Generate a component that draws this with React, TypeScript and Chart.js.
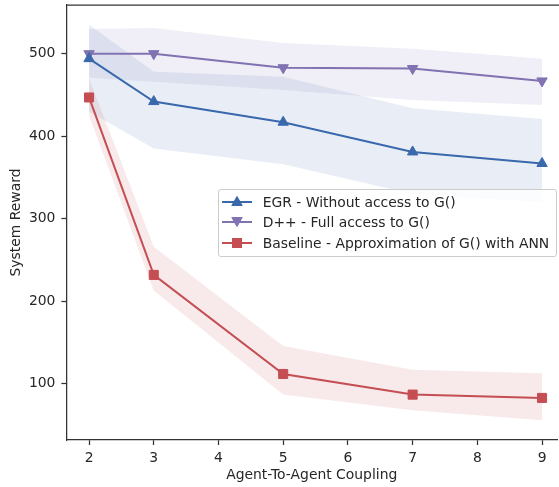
import React, { useEffect, useRef } from "react";
import { Chart, registerables } from "chart.js";

Chart.register(...registerables);

// ---- data ----
const couplings = [2, 3, 5, 7, 9];

const egrMean = [494, 442, 417, 381, 367];
const egrUpper = [535, 478, 472, 434, 421];
const egrLower = [430, 385, 366, 330, 320];

const dppMean = [500, 500, 483, 482, 467];
const dppUpper = [530, 531, 513, 506, 494];
const dppLower = [471, 466, 456, 444, 438];

const baseMean = [447, 232, 112, 87, 83];
const baseUpper = [470, 266, 146, 117, 113];
const baseLower = [425, 213, 87, 68, 56];

const xTicks = [2, 3, 4, 5, 6, 7, 8, 9];
const yTicks = [100, 200, 300, 400, 500];

const labels = [
  "EGR - Without access to G()",
  "D++ - Full access to G()",
  "Baseline - Approximation of G() with ANN",
];

const BLUE = "#3a68ad";
const PURPLE = "#8172b2";
const RED = "#c44e52";
const BLUE_BAND = "rgba(58,104,173,0.11)";
const PURPLE_BAND = "rgba(129,114,178,0.12)";
const RED_BAND = "rgba(196,78,82,0.12)";
const AXIS = "#333333";
const TEXT = "#262626";
const FONT = "'DejaVu Sans', sans-serif";

const pts = (ys: number[]) => couplings.map((x, i) => ({ x, y: ys[i] }));

const topSpine = {
  id: "topSpine",
  afterDraw(chart: any) {
    const { ctx, chartArea } = chart;
    ctx.save();
    ctx.strokeStyle = AXIS;
    ctx.lineWidth = 1.25;
    ctx.beginPath();
    ctx.moveTo(chartArea.left, chartArea.top);
    ctx.lineTo(chart.width, chartArea.top);
    ctx.stroke();
    ctx.restore();
  },
};

function Marker({ kind, color }: { kind: string; color: string }) {
  let shape: any = null;
  if (kind === "up") shape = <polygon points="15,0.5 20.2,9.5 9.8,9.5" fill={color} stroke={color} />;
  else if (kind === "down") shape = <polygon points="15,10.5 20.2,1.5 9.8,1.5" fill={color} stroke={color} />;
  else shape = <rect x="10.5" y="1.5" width="9" height="9" fill={color} stroke={color} />;
  return (
    <svg width="30" height="12" style={{ position: "absolute", left: 3.7, top: 2 }}>
      <line x1="0" y1="6" x2="30" y2="6" stroke={color} strokeWidth="2" />
      {shape}
    </svg>
  );
}

export default function App() {
  const ref = useRef<HTMLCanvasElement | null>(null);

  useEffect(() => {
    if (!ref.current) return;
    const band = (data: number[], color: string, fill: any) => ({
      label: "_band",
      data: pts(data),
      borderWidth: 0,
      pointRadius: 0,
      backgroundColor: color,
      fill,
      order: 2,
    });
    const line = (label: string, data: number[], color: string, style: string, radius: number, rotation = 0) => ({
      label,
      data: pts(data),
      borderColor: color,
      backgroundColor: color,
      borderWidth: 2,
      pointStyle: style,
      pointRadius: radius,
      pointRotation: rotation,
      pointBorderWidth: 1,
      pointBorderColor: color,
      pointBackgroundColor: color,
      fill: false,
      order: 0,
    });

    const chart = new Chart(ref.current, {
      type: "line",
      data: {
        datasets: [
          band(egrLower, BLUE_BAND, false), // 0
          band(egrUpper, BLUE_BAND, 0), // 1
          band(dppLower, PURPLE_BAND, false), // 2
          band(dppUpper, PURPLE_BAND, 2), // 3
          band(baseLower, RED_BAND, false), // 4
          band(baseUpper, RED_BAND, 4), // 5
          line(labels[0], egrMean, BLUE, "triangle", 6),
          line(labels[1], dppMean, PURPLE, "triangle", 6, 180),
          line(labels[2], baseMean, RED, "rect", 6.4),
        ] as any,
      },
      options: {
        animation: false,
        responsive: false,
        layout: { autoPadding: false, padding: { top: 5, right: 2, left: 0, bottom: 0 } },
        plugins: {
          legend: { display: false },
          tooltip: { enabled: false },
          filler: { drawTime: "beforeDatasetsDraw" } as any,
        },
        scales: {
          x: {
            type: "linear",
            min: 1.65,
            max: 9.231,
            afterFit: (s: any) => {
              s.height = 47;
              s.paddingLeft = 0;
              s.paddingRight = 0;
            },
            afterBuildTicks: (s: any) => {
              s.ticks = xTicks.map((v) => ({ value: v }));
            },
            grid: {
              display: true,
              drawOnChartArea: false,
              drawTicks: true,
              tickLength: 5,
              tickColor: AXIS,
              tickWidth: 1.25,
            },
            border: { display: true, color: AXIS, width: 1.25 },
            ticks: {
              padding: 5,
              color: TEXT,
              font: { family: FONT, size: 13.9 },
              maxRotation: 0,
              autoSkip: false,
            },
            title: {
              display: true,
              text: "Agent-To-Agent Coupling",
              color: TEXT,
              font: { family: FONT, size: 13.9 },
              padding: { top: 0, bottom: 3.7 },
            },
          },
          y: {
            type: "linear",
            min: 32,
            max: 559,
            afterFit: (s: any) => {
              s.width = 66.4;
              s.paddingTop = 0;
              s.paddingBottom = 0;
            },
            afterBuildTicks: (s: any) => {
              s.ticks = yTicks.map((v) => ({ value: v }));
            },
            grid: {
              display: true,
              drawOnChartArea: false,
              drawTicks: true,
              tickLength: 5,
              tickColor: AXIS,
              tickWidth: 1.25,
            },
            border: { display: true, color: AXIS, width: 1.25 },
            ticks: {
              padding: 6,
              color: TEXT,
              font: { family: FONT, size: 13.9 },
              autoSkip: false,
            },
            title: {
              display: true,
              text: "System Reward",
              color: TEXT,
              font: { family: FONT, size: 13.9 },
              padding: { top: 7.7, bottom: 0 },
            },
          },
        },
      },
      plugins: [topSpine],
    });
    return () => chart.destroy();
  }, []);

  const rows = [
    { kind: "up", color: BLUE, label: labels[0], cy: 201.7 },
    { kind: "down", color: PURPLE, label: labels[1], cy: 222.2 },
    { kind: "sq", color: RED, label: labels[2], cy: 242.7 },
  ];

  return (
    <div
      style={{
        position: "fixed",
        left: 0,
        top: 0,
        width: 559,
        height: 487,
        overflow: "hidden",
        background: "#ffffff",
      }}
    >
      <canvas ref={ref} width={559} height={487} style={{ position: "absolute", left: 0, top: 0 }} />
      <div
        style={{
          position: "absolute",
          left: 218,
          top: 189,
          width: 339,
          height: 68,
          boxSizing: "border-box",
          border: "1px solid #cccccc",
          borderRadius: 3,
          background: "rgba(255,255,255,0.8)",
        }}
      />
      {rows.map((r, i) => (
        <div
          key={i}
          style={{
            position: "absolute",
            left: 218,
            top: r.cy - 8,
            height: 16,
            width: 339,
            fontFamily: FONT,
            fontSize: 13.9,
            lineHeight: "16px",
            color: TEXT,
            whiteSpace: "nowrap",
          }}
        >
          <Marker kind={r.kind} color={r.color} />
          <span style={{ position: "absolute", left: 44.7, top: 0 }}>{r.label}</span>
        </div>
      ))}
    </div>
  );
}
